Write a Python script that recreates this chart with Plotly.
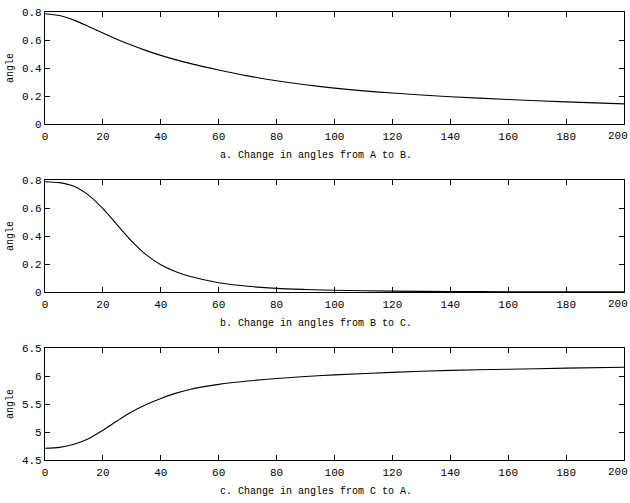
import plotly.graph_objects as go
from plotly.subplots import make_subplots

# Sample positions along the horizontal axis
steps = [0, 5, 10, 15, 20, 25, 30, 35, 40, 45, 50, 60, 70, 80, 90, 100,
         120, 140, 160, 180, 200]

# Angle from A to B
angle_ab = [0.788, 0.775, 0.742, 0.697, 0.650, 0.604, 0.562, 0.524, 0.490,
            0.460, 0.433, 0.386, 0.344, 0.309, 0.280, 0.256,
            0.221, 0.195, 0.175, 0.158, 0.144]

# Angle from B to C
angle_bc = [0.788, 0.781, 0.755, 0.692, 0.596, 0.478, 0.362, 0.265, 0.195,
            0.147, 0.112, 0.066, 0.041, 0.026, 0.018, 0.012,
            0.006, 0.003, 0.002, 0.001, 0.001]

# Angle from C to A
angle_ca = [4.71, 4.725, 4.78, 4.88, 5.03, 5.20, 5.36, 5.49, 5.60,
            5.69, 5.76, 5.85, 5.91, 5.955, 5.99, 6.02,
            6.065, 6.10, 6.12, 6.14, 6.155]

# x tick positions and labels
x_ticks = [0, 20, 40, 60, 80, 100, 120, 140, 160, 180, 200]
x_labels = ["0", "20", "40", "60", "80", "100", "120", "140", "160", "180", "200"]

captions = ["a. Change in angles from A to B.",
            "b. Change in angles from B to C.",
            "c. Change in angles from C to A."]
y_ranges = [[0, 0.8], [0, 0.8], [4.5, 6.5]]
y_dticks = [0.2, 0.2, 0.5]
series = [angle_ab, angle_bc, angle_ca]

W, H = 630, 503
ML, MR, MT, MB = 45, 6, 12, 43
plot_h = H - MT - MB
plot_w = W - ML - MR

FONT = "Liberation Mono, DejaVu Sans Mono, monospace"
TICK_SIZE = 11

fig = make_subplots(rows=3, cols=1, vertical_spacing=0.125)

for i, ys in enumerate(series):
    fig.add_trace(go.Scatter(x=steps, y=ys, mode="lines",
                             line=dict(color="black", width=1.1, shape="spline",
                                       smoothing=0.8),
                             showlegend=False),
                  row=i + 1, col=1)

# panel domains in paper units (each 112 px tall, 56 px apart)
domains = [[0.75, 1.0], [0.375, 0.625], [0.0, 0.25]]

axis_common = dict(showline=True, linecolor="black", linewidth=1.2,
                   mirror="ticks", ticks="inside", ticklen=5, tickwidth=1,
                   tickcolor="black", showgrid=False, zeroline=False,
                   automargin=False,
                   tickfont=dict(family=FONT, size=TICK_SIZE, color="black"))

# the last x label sits flush with the right edge, so it is placed separately
x_ticktext = x_labels[:-1] + [""]

for i in range(3):
    fig.update_xaxes(range=[0, 200], tickmode="array", tickvals=x_ticks,
                     ticktext=x_ticktext, row=i + 1, col=1,
                     ticklabelstandoff=2, **axis_common)
    fig.update_yaxes(range=y_ranges[i], dtick=y_dticks[i], row=i + 1, col=1,
                     domain=domains[i],
                     title=dict(text="angle", standoff=6,
                                font=dict(family=FONT, size=10, color="black")),
                     **axis_common)
    fig.add_annotation(text=x_labels[-1], xref="paper", yref="paper",
                       x=1 + 6 / plot_w, y=domains[i][0],
                       xanchor="right", yanchor="top", yshift=-4,
                       showarrow=False,
                       font=dict(family=FONT, size=TICK_SIZE, color="black"))

# captions under each panel
for i, cap in enumerate(captions):
    bottom_px = MT + (1 - domains[i][0]) * plot_h
    cy = 1 - (bottom_px + 31 - MT) / plot_h
    fig.add_annotation(text=cap, xref="paper", yref="paper",
                       x=(316 - ML) / plot_w, y=cy, xanchor="center",
                       yanchor="middle", showarrow=False,
                       font=dict(family=FONT, size=10, color="black"))

fig.update_layout(width=W, height=H,
                  margin=dict(l=ML, r=MR, t=MT, b=MB, autoexpand=False),
                  paper_bgcolor="white", plot_bgcolor="white")

fig.write_html("out.html")
